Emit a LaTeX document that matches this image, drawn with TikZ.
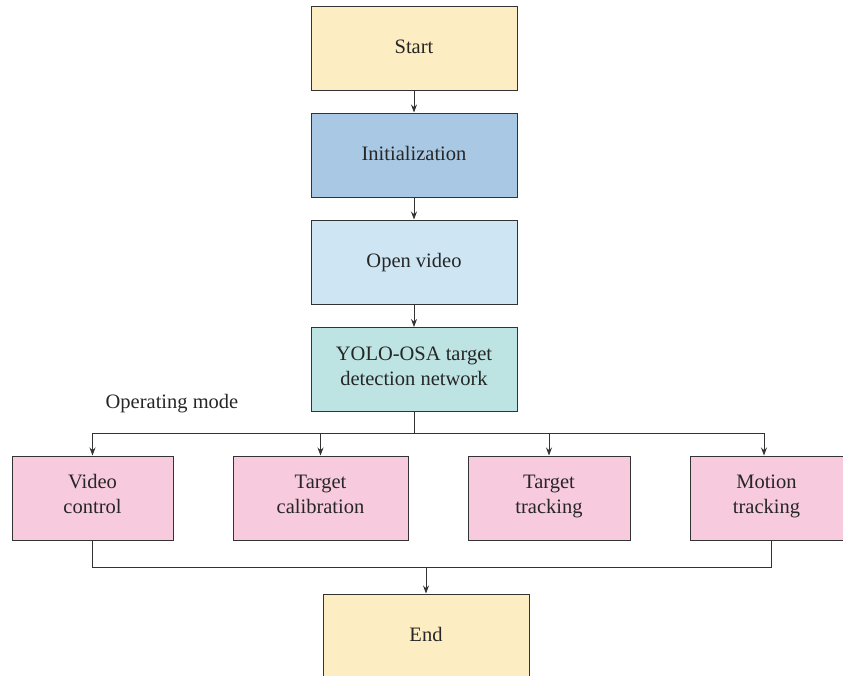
\documentclass[tikz,border=0pt]{standalone}
\usepackage{fontspec}
\setmainfont{Liberation Serif}
\usetikzlibrary{arrows.meta}
\definecolor{cyel}{HTML}{FCEDC2}
\definecolor{cinit}{HTML}{A8C8E3}
\definecolor{copen}{HTML}{CEE6F3}
\definecolor{cyolo}{HTML}{BDE4E3}
\definecolor{cpink}{HTML}{F7CADD}
\definecolor{cline}{HTML}{333333}
\begin{document}
\begin{tikzpicture}[x=1pt,y=-1pt,
  txt/.style={font=\fontsize{20.5}{25}\selectfont,text=black!85},
  box/.style={draw=cline,line width=1pt,minimum width=206pt,minimum height=84pt,align=center,txt,inner sep=0pt,
    execute at begin node=\strut, execute at end node=\strut},
  twoline/.style={execute at begin node={\rule{0pt}{24pt}}},
  mode/.style={box,twoline,fill=cpink,minimum height=84pt},
  conn/.style={draw=cline,line width=0.9pt},
  arr/.style={conn,-{Stealth[length=8pt,width=6pt]}}]
\useasboundingbox (0,0) rectangle (843,675);
\node[box,fill=cyel] (start) at (414,48) {Start};
\node[box,fill=cinit] (init) at (414,155) {Initialization};
\node[box,fill=copen] (open) at (414,262) {Open video};
\node[box,twoline,fill=cyolo] (yolo) at (414,369.5) {YOLO-OSA target\\detection network};
\node[txt] (opm) at (172,404) {Operating mode};
\node[mode,minimum width=161pt] (vc) at (92.5,498) {Video\\control};
\node[mode,minimum width=175pt] (tc) at (320.5,498) {Target\\calibration};
\node[mode,minimum width=162pt] (tt) at (549,498) {Target\\tracking};
\node[mode,minimum width=153pt] (mt) at (766.5,498) {Motion\\tracking};
\node[box,fill=cyel] (end) at (426,636) {End};
\coordinate (b1) at (414,433);
\coordinate (b2) at (426,567);
\draw[arr] (start) -- (init);
\draw[arr] (init) -- (open);
\draw[arr] (open) -- (yolo);
\draw[conn] (yolo.south) -- (b1);
\draw[arr] (b1) -| (vc.north);
\draw[arr] (b1) -| (tc.north);
\draw[arr] (b1) -| (tt.north);
\draw[arr] (b1) -| (mt.north -| 764,0);
\draw[conn] (vc.south) |- (b2);
\draw[conn] (mt.south -| 771,0) |- (b2);
\draw[arr] (b2) -- (end);
\end{tikzpicture}
\end{document}
